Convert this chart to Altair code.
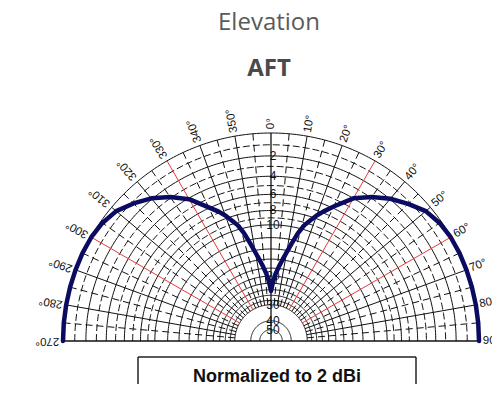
import altair as alt
import pandas as pd
import numpy as np

# ---------------- data ----------------
# Elevation pattern, angle in degrees from zenith (negative = left / 270..360), dB below peak
pat_angle = [-90, -85, -80, -75, -70, -65, -60, -55, -50, -45, -40, -35, -30, -25, -22, -20,
             -18, -16, -14, -12, -10, -8, -6, -4, -2, 0,
             2, 4, 6, 8, 10, 12, 14, 16, 18, 20, 22, 25, 30, 35, 40, 45, 50, 55, 60, 65, 70, 75, 80, 85, 90]
pat_db = [0.0, 0.0, 0.0, 0.0, 0.0, 0.0, 0.04, 0.18, 0.5, 1.15, 1.9, 2.9, 4.1, 5.9, 6.85, 7.6,
          8.5, 9.4, 10.8, 12.6, 14.4, 16.0, 17.6, 19.3, 21.5, 24.5,
          21.5, 19.3, 17.6, 16.0, 14.4, 12.6, 10.8, 9.4, 8.5, 7.6, 6.85, 5.8, 4.0, 2.9, 1.95, 1.2, 0.5, 0.18, 0.04, 0.0, 0.0, 0.0, 0.0, 0.0, 0.0]

solid_rings = [0, 2, 4, 6, 8, 10, 12, 14, 16, 18, 20, 22, 24, 26, 28, 30, 40, 50]
dashed_rings = [1, 3, 5, 7, 9]
ring_labels = [2, 4, 6, 8, 10, 20, 30, 40, 50]

solid_spokes = [-80, -70, -50, -40, -20, -10, 10, 20, 40, 50, 70, 80]
dashed_spokes = [-85, -75, -65, -55, -45, -35, -25, -15, -5, 5, 15, 25, 35, 45, 55, 65, 75, 85]
red_spokes = [-60, -30, 30, 60]
axis_spokes = [-90, 0, 90]
inner_db = 30

angle_ticks = [270, 280, 290, 300, 310, 320, 330, 340, 350, 0, 10, 20, 30, 40, 50, 60, 70, 80, 90]

title_text = "Elevation"
subtitle_text = "AFT"
note_text = "Normalized to 2 dBi"

# ---------------- geometry helpers ----------------
W, H = 484, 378
CX, CY, R = 263.0, 333.0, 208.0
xdom = [-CX / R, (W - CX) / R]
ydom = [(CY - H) / R, CY / R]
xs = alt.Scale(domain=xdom, nice=False, zero=False)
ys = alt.Scale(domain=ydom, nice=False, zero=False)

RAD = "pow(0.89, datum.db / 2)"

def cart(ch, rexpr="datum.r", aexpr="datum.ang"):
    return ch.transform_calculate(
        px=f"({rexpr}) * sin(({aexpr}) * PI / 180)",
        py=f"({rexpr}) * cos(({aexpr}) * PI / 180)",
    )

angs = np.arange(-90, 90.5, 1.0)

def ring_df(levels):
    rows = []
    for lv in levels:
        for a in angs:
            rows.append({"db": lv, "ang": float(a)})
    return pd.DataFrame(rows)

def ring_layer(levels, dash):
    base = alt.Chart(ring_df(levels)).transform_calculate(r=RAD)
    base = cart(base)
    kw = dict(color="#111111", strokeWidth=1)
    if dash:
        kw["strokeDash"] = [7, 3]
    return base.mark_line(**kw).encode(
        x=alt.X("px:Q", scale=xs, axis=None),
        y=alt.Y("py:Q", scale=ys, axis=None),
        detail="db:N",
        order="ang:Q",
    )

def spoke_layer(angles, r0, color, dash=False, width=1.0):
    df = pd.DataFrame({"ang": angles})
    base = alt.Chart(df).transform_calculate(
        x1=f"{r0} * sin(datum.ang * PI / 180)",
        y1=f"{r0} * cos(datum.ang * PI / 180)",
        x2="sin(datum.ang * PI / 180)",
        y2="cos(datum.ang * PI / 180)",
    )
    kw = dict(color=color, strokeWidth=width)
    if dash:
        kw["strokeDash"] = [7, 4]
    return base.mark_rule(**kw).encode(
        x=alt.X("x1:Q", scale=xs, axis=None),
        y=alt.Y("y1:Q", scale=ys, axis=None),
        x2="x2:Q",
        y2="y2:Q",
    )

r_in = 0.89 ** (inner_db / 2)

layers = []
layers.append(ring_layer(solid_rings, False))
layers.append(ring_layer(dashed_rings, True))
layers.append(spoke_layer(dashed_spokes, r_in, "#111111", dash=True))
layers.append(spoke_layer(solid_spokes, r_in, "#111111"))
layers.append(spoke_layer(red_spokes, r_in, "#e8393a"))
layers.append(spoke_layer(axis_spokes, 0.0, "#111111", width=1.3))

# ring labels along the vertical axis
lab = alt.Chart(pd.DataFrame({"db": ring_labels})).transform_calculate(
    r=RAD, px="0", py="datum.r", txt="datum.db + ''"
).mark_text(font="Liberation Sans", fontSize=12, color="#111111", align="center",
            baseline="middle", dx=2).encode(
    x=alt.X("px:Q", scale=xs, axis=None),
    y=alt.Y("py:Q", scale=ys, axis=None),
    text="txt:N",
)
layers.append(lab)

# angle labels
alab = alt.Chart(pd.DataFrame({"deg": angle_ticks})).transform_calculate(
    px="1.018 * sin(datum.deg * PI / 180)",
    py="1.018 * cos(datum.deg * PI / 180)",
    rot="(datum.deg + 270) % 360",
    txt="datum.deg + '°'",
).mark_text(font="Liberation Sans", fontSize=11.5, color="#111111", align="left",
            baseline="middle").encode(
    x=alt.X("px:Q", scale=xs, axis=None),
    y=alt.Y("py:Q", scale=ys, axis=None),
    angle=alt.Angle("rot:Q", scale=None),
    text="txt:N",
)
layers.append(alab)

# pattern
pat = alt.Chart(pd.DataFrame({"ang": pat_angle, "db": pat_db})).transform_calculate(r=RAD)
pat = cart(pat).mark_line(color="#0b0b62", strokeWidth=4.5, interpolate="linear",
                          strokeCap="round", strokeJoin="round").encode(
    x=alt.X("px:Q", scale=xs, axis=None),
    y=alt.Y("py:Q", scale=ys, axis=None),
    order="ang:Q",
)
layers.append(pat)

# titles and note box
one = pd.DataFrame({"t": [title_text], "s": [subtitle_text], "n": [note_text]})
t1 = alt.Chart(one).mark_text(font="Open Sans", fontSize=24, color="#5a5a5a",
                              align="center", baseline="alphabetic").encode(
    x=alt.value(261), y=alt.value(22), text="t:N")
t2 = alt.Chart(one).mark_text(font="Open Sans", fontSize=24, fontWeight="bold", color="#4a4a4a",
                              align="center", baseline="alphabetic").encode(
    x=alt.value(261), y=alt.value(68), text="s:N")
box_top = alt.Chart(one).mark_rule(color="#222222", strokeWidth=1.5).encode(
    x=alt.value(130), x2=alt.value(408), y=alt.value(349))
box_left = alt.Chart(one).mark_rule(color="#222222", strokeWidth=1.5).encode(
    x=alt.value(130), y=alt.value(349), y2=alt.value(H - 2))
box_right = alt.Chart(one).mark_rule(color="#222222", strokeWidth=1.5).encode(
    x=alt.value(408), y=alt.value(349), y2=alt.value(H - 2))
note = alt.Chart(one).mark_text(font="Liberation Sans", fontSize=18, fontWeight="bold",
                                color="#111111", align="center", baseline="middle").encode(
    x=alt.value(269), y=alt.value(369), text="n:N")
layers += [t1, t2, box_top, box_left, box_right, note]

chart = alt.layer(*layers).properties(
    width=W, height=H, padding=0, autosize=alt.AutoSizeParams(type="none")
).configure_view(stroke=None)

chart.save("out.html", embed_options={"renderer": "svg", "actions": False})
